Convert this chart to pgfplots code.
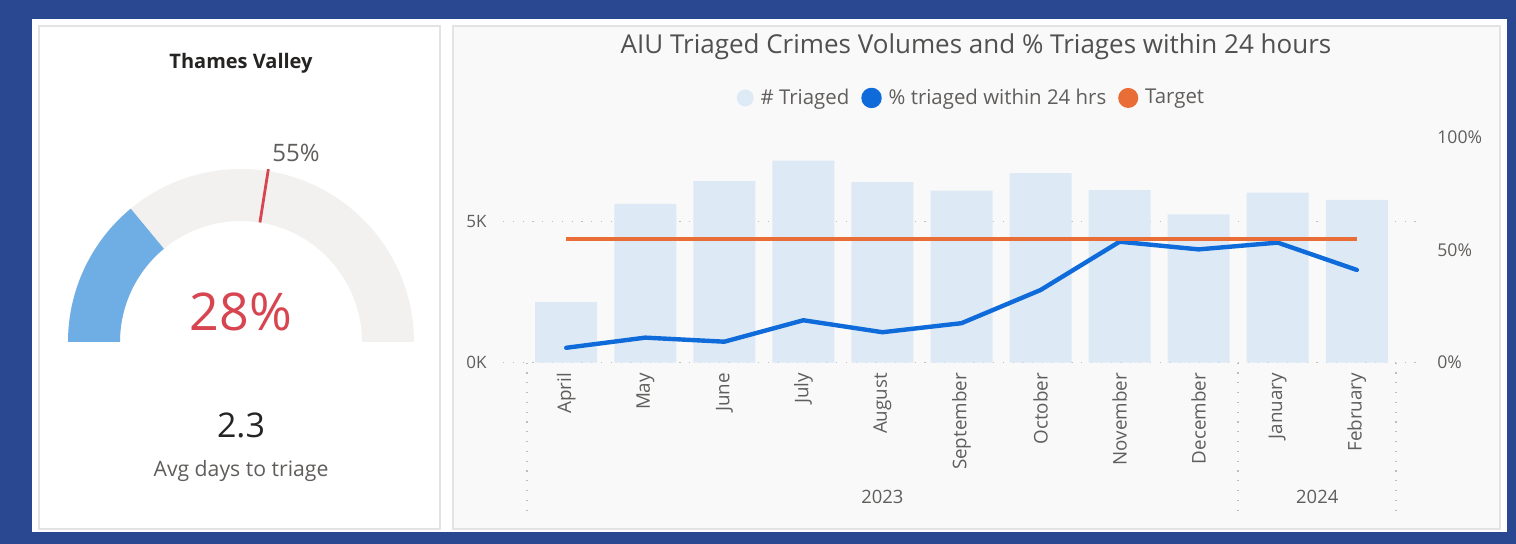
\documentclass[border=0pt]{standalone}
\usepackage{pgfplots}
\usepackage{pgfplotstable}
\pgfplotsset{compat=1.18}
\usepackage{fontspec}
\setmainfont{Open Sans}
\definecolor{frame}{HTML}{2A4791}
\definecolor{cardbg}{HTML}{F9F9F9}
\definecolor{cardline}{HTML}{E3E3E3}
\definecolor{barblue}{HTML}{DDEAF6}
\definecolor{lineblue}{HTML}{0F6BDA}
\definecolor{targetc}{HTML}{E86D37}
\definecolor{gaugeblue}{HTML}{6FADE5}
\definecolor{gaugegray}{HTML}{F2F1F0}
\definecolor{gred}{HTML}{D64550}
\definecolor{txtdark}{HTML}{252423}
\definecolor{txtgray}{HTML}{605E5C}
\definecolor{gridc}{HTML}{BDBDBD}

\pgfplotstableread{
idx triaged pct target
0  2150 6.6  55
1  5630 11.1 55
2  6440 9.3  55
3  7160 18.8 55
4  6400 13.5 55
5  6100 17.5 55
6  6720 32.2 55
7  6120 53.6 55
8  5260 50.2 55
9  6030 53.2 55
10 5770 41.1 55
}\aiudata

\newcommand{\gaugeval}{28}
\newcommand{\gaugetarget}{55}

\begin{document}
\begin{tikzpicture}
% frame and cards
\fill[frame] (0pt,0pt) rectangle (758pt,272pt);
\fill[white] (16pt,6pt) rectangle (753.5pt,262.5pt);
\filldraw[fill=white, draw=cardline, line width=0.6pt] (19.5pt,7.5pt) rectangle (220pt,259pt);
\filldraw[fill=cardbg, draw=cardline, line width=0.6pt] (226.5pt,7.5pt) rectangle (750pt,259pt);

% left card texts
\node[font=\bfseries\fontsize{10}{12}\selectfont, text=txtdark] at (120.5pt,240.5pt) {Thames Valley};
\node[font=\fontsize{17}{20}\selectfont, text=txtdark] at (120.5pt,59.5pt) {2.3};
\node[font=\fontsize{10.6}{12}\selectfont, text=txtgray] at (120.5pt,36.5pt) {Avg days to triage};

% title
\node[font=\fontsize{13}{15}\selectfont, text=txtdark!80] at (488pt,248.5pt) {AIU Triaged Crimes Volumes and \% Triages within 24 hours};

\pgfmathsetmacro{\gend}{180-1.8*\gaugeval}
\pgfmathsetmacro{\tang}{180-1.8*\gaugetarget}

% gauge
\begin{axis}[
  at={(30.5pt,101pt)}, anchor=south west,
  x=0.5pt, y=0.5pt,
  xmin=-180, xmax=180, ymin=0, ymax=180,
  hide axis, clip=false,
]
\fill[gaugegray, shift={(axis cs:0,0)}] (180:86.5pt) arc[start angle=180, end angle=0, radius=86.5pt] -- (0:60.5pt) arc[start angle=0, end angle=180, radius=60.5pt] -- cycle;
\fill[gaugeblue, shift={(axis cs:0,0)}] (180:86.5pt) arc[start angle=180, end angle=\gend, radius=86.5pt] -- (\gend:60.5pt) arc[start angle=\gend, end angle=180, radius=60.5pt] -- cycle;
\draw[gred, line width=1.4pt, shift={(axis cs:0,0)}] (\tang:60.5pt) -- (\tang:87.5pt);
\node[font=\fontsize{12}{14}\selectfont, text=txtgray] at (axis cs:55,189) {55\%};
\node[font=\fontsize{26}{30}\selectfont, text=gred] at (axis cs:0,30) {28\%};
\end{axis}

% bars (left axis)
\begin{axis}[
  at={(251.5pt,90.65pt)}, anchor=south west,
  width=458.5pt, height=112.85pt, scale only axis,
  xmin=-0.8, xmax=10.8, ymin=0, ymax=8000,
  axis line style={draw=none},
  major tick length=0pt,
  xtick={0,...,10},
  xticklabels={April,May,June,July,August,September,October,November,December,January,February},
  ytick={0,5000}, yticklabels={0K,5K},
  ymajorgrids,
  grid style={gridc, line width=0.8pt, dash pattern=on 0.6pt off 4.3pt},
  yticklabel style={font=\fontsize{8.5}{10}\selectfont, text=txtgray, inner sep=0pt, anchor=east},
  yticklabel shift=8pt,
  xticklabel style={rotate=90, anchor=east, font=\fontsize{9.4}{10}\selectfont, text=txtgray, inner sep=0pt},
  xticklabel shift=5pt,
  clip=false,
  /pgf/number format/assume math mode=true,
]
\addplot[ybar, bar width=31pt, fill=barblue, draw=none] table[x=idx, y=triaged]{\aiudata};
\draw[gridc, line width=0.8pt, dash pattern=on 0.6pt off 4.3pt] (axis cs:-0.5,0) -- ++(0pt,-74pt);
\draw[gridc, line width=0.8pt, dash pattern=on 0.6pt off 4.3pt] (axis cs:8.5,0) -- ++(0pt,-74pt);
\draw[gridc, line width=0.8pt, dash pattern=on 0.6pt off 4.3pt] (axis cs:10.5,0) -- ++(0pt,-74pt);
\node[font=\fontsize{9.2}{10}\selectfont, text=txtgray] at ([yshift=-67.2pt]axis cs:4,0) {2023};
\node[font=\fontsize{9.2}{10}\selectfont, text=txtgray] at ([yshift=-67.2pt]axis cs:9.5,0) {2024};
\end{axis}

% lines (right axis)
\begin{axis}[
  at={(251.5pt,90.65pt)}, anchor=south west,
  width=458.5pt, height=112.85pt, scale only axis,
  xmin=-0.8, xmax=10.8, ymin=0, ymax=100,
  axis x line=none, axis y line*=right,
  axis line style={draw=none},
  major tick length=0pt,
  ytick={0,50,100},
  yticklabel={\pgfmathprintnumber{\tick}\%},
  yticklabel style={font=\fontsize{8.8}{10}\selectfont, text=txtgray, inner sep=0pt, anchor=west},
  yticklabel shift=8.5pt,
  clip=false,
  /pgf/number format/assume math mode=true,
  legend style={at={(axis description cs:0.512,1.173)}, anchor=center, draw=none, fill=none,
    legend columns=-1, font=\fontsize{10.2}{12}\selectfont, text=txtgray,
    /tikz/every odd column/.append style={column sep=1.5pt},
    /tikz/every even column/.append style={column sep=4pt}},
]
\addlegendimage{legend image code/.code={\fill[barblue] (4pt,0pt) circle (4pt);}}
\addlegendentry{\# Triaged}
\addplot[lineblue, line width=2.2pt, line join=round, line cap=round,
  legend image code/.code={\fill[lineblue] (4pt,0pt) circle (4pt);}] table[x=idx, y=pct]{\aiudata};
\addlegendentry{\% triaged within 24 hrs}
\addplot[targetc, line width=2pt,
  legend image code/.code={\fill[targetc] (4pt,0pt) circle (4pt);}] table[x=idx, y=target]{\aiudata};
\addlegendentry{Target}
\end{axis}
\end{tikzpicture}
\end{document}
